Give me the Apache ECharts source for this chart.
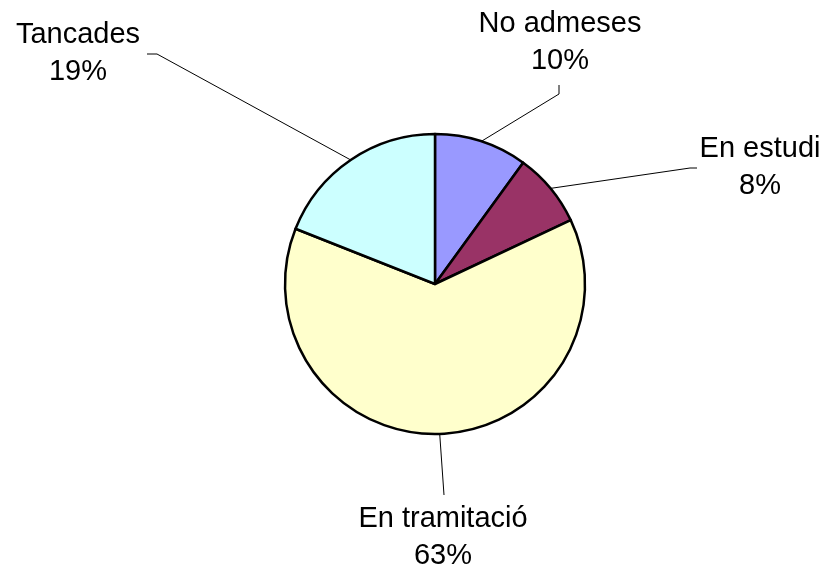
<!DOCTYPE html>
<html><head><meta charset="utf-8">
<script src="https://cdn.jsdelivr.net/npm/echarts@6/dist/echarts.min.js"></script>
<style>html,body{margin:0;padding:0;background:#fff}#c{width:827px;height:569px}</style>
</head><body><div id="c"></div>
<script>
const categories = ['No admeses', 'En estudi', 'En tramitació', 'Tancades'];
const values = [10, 8, 63, 19];
const colors = ['#9999FF', '#993366', '#FFFFCC', '#CCFFFF'];

// label block centres and leader-line bends (layout only)
const labelPos = [[560, 42], [760, 167], [443, 537], [78, 53]];
const lineEnds = [
  [[559, 94], [559, 85]],
  [[690, 168], [697, 168]],
  [[444, 495]],
  [[157, 54], [147, 54]]
];

const chart = echarts.init(document.getElementById('c'), null, {renderer: 'canvas'});
chart.setOption({
  animation: false,
  backgroundColor: '#fff',
  series: [{
    type: 'pie',
    center: [435, 284],
    radius: 150,
    startAngle: 90,
    clockwise: true,
    avoidLabelOverlap: false,
    percentPrecision: 0,
    emphasis: {disabled: true},
    data: categories.map((n, i) => ({name: n, value: values[i], itemStyle: {color: colors[i]}})),
    itemStyle: {borderColor: '#000', borderWidth: 2.5},
    label: {
      show: true,
      position: 'outside',
      formatter: '{b}\n{d}%',
      fontFamily: 'Liberation Sans, Arial, sans-serif',
      fontSize: 29,
      lineHeight: 37,
      color: '#000',
      align: 'center'
    },
    labelLine: {show: true, length: 20, length2: 10, lineStyle: {color: '#000', width: 1}},
    labelLayout: function (p) {
      const i = p.dataIndex;
      const out = {x: labelPos[i][0], y: labelPos[i][1], align: 'center', verticalAlign: 'middle'};
      if (p.labelLinePoints && p.labelLinePoints.length) {
        out.labelLinePoints = [p.labelLinePoints[0]].concat(lineEnds[i]);
      }
      return out;
    }
  }]
});
</script>
</body></html>
